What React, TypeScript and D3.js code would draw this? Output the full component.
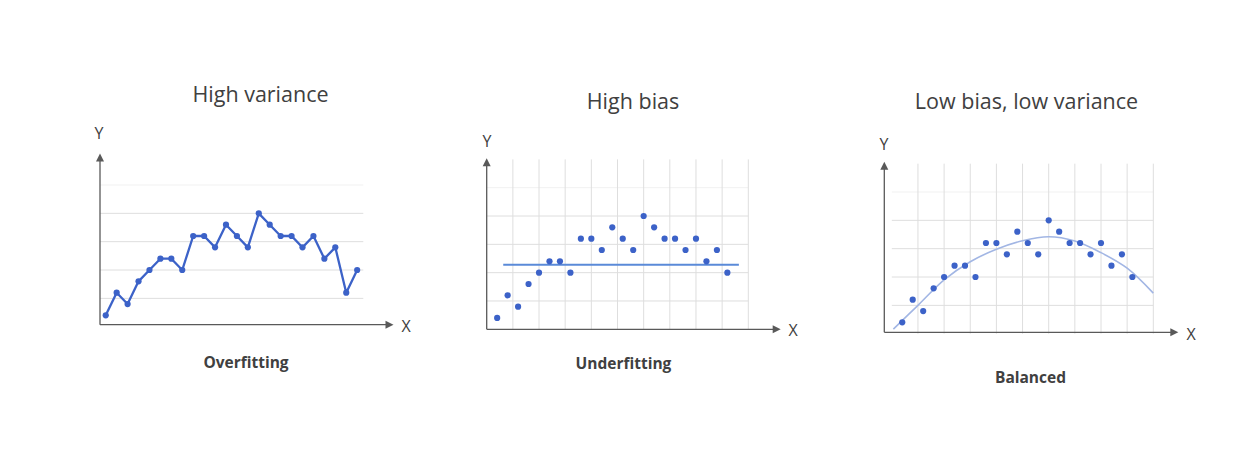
import React from 'react';
import * as d3 from 'd3';

// ---- data ----
const overfitX = [1, 2, 3, 4, 5, 6, 7, 8, 9, 10, 11, 12, 13, 14, 15, 16, 17, 18, 19, 20, 21, 22, 23, 24];
const overfitY = [0.4, 1.2, 0.8, 1.6, 2.0, 2.4, 2.4, 2.0, 3.2, 3.2, 2.8, 3.6, 3.2, 2.8, 4.0, 3.6, 3.2, 3.2, 2.8, 3.2, 2.4, 2.8, 1.2, 2.0];
const scatterX = [1, 2, 3, 4, 5, 6, 7, 8, 9, 10, 11, 12, 13, 14, 15, 16, 17, 18, 19, 20, 21, 22, 23];
const scatterY = [0.4, 1.2, 0.8, 1.6, 2.0, 2.4, 2.4, 2.0, 3.2, 3.2, 2.8, 3.6, 3.2, 2.8, 4.0, 3.6, 3.2, 3.2, 2.8, 3.2, 2.4, 2.8, 2.0];
const biasLineX = [1.58, 24.1];
const biasLineY = [2.28, 2.28];
const curveX = [0.15, 2.5, 5, 7.5, 10, 12.5, 15, 17.5, 20, 22.5, 25];
const curveY = [0.16, 1.0, 1.9, 2.54, 2.98, 3.28, 3.42, 3.27, 2.86, 2.31, 1.43];
const hGridValues = [1, 2, 3, 4, 5];
const vGridValues = [2.5, 5, 7.5, 10, 12.5, 15, 17.5, 20, 22.5, 25];
const titles = ['High variance', 'High bias', 'Low bias, low variance'];
const subtitles = ['Overfitting', 'Underfitting', 'Balanced'];

const DOT = '#3c62c8';
const GRID = '#dedede';
const GRID_TOP = '#f1f1f1';
const AXIS = '#595959';
const TEXT = '#404040';
const FONT = "'Open Sans', 'Noto Sans', sans-serif";

type PanelLayout = {
  x0: number; x25: number; y0: number; y5: number;
  axisX: number; axisY: number; yTip: number; xTip: number;
  gridLeft: number; gridRight: number; vGrid: boolean;
  yLabel: [number, number]; xLabel: [number, number];
  title: [number, number]; subtitle: [number, number];
};

const layouts: PanelLayout[] = [
  { x0: 94.8, x25: 368.1, y0: 326.7, y5: 185.0, axisX: 100, axisY: 324.7, yTip: 153.5, xTip: 393.5,
    gridLeft: 100, gridRight: 363.3, vGrid: false,
    yLabel: [99, 138.5], xLabel: [406, 332], title: [260.5, 102], subtitle: [246, 368] },
  { x0: 486.7, x25: 748.3, y0: 329.3, y5: 187.7, axisX: 486.7, axisY: 329.3, yTip: 158.3, xTip: 780.7,
    gridLeft: 486.7, gridRight: 748.3, vGrid: true,
    yLabel: [487, 146.5], xLabel: [793, 335.5], title: [633, 109], subtitle: [623.5, 369] },
  { x0: 891.8, x25: 1153.3, y0: 333.7, y5: 192.0, axisX: 884.3, axisY: 332.3, yTip: 161.7, xTip: 1178.3,
    gridLeft: 891.8, gridRight: 1153.3, vGrid: true,
    yLabel: [884, 150], xLabel: [1191, 340], title: [1026.5, 109], subtitle: [1030.5, 383] },
];

function Arrows({ L }: { L: PanelLayout }) {
  const h = 8, w = 4;
  return (
    <g>
      <line x1={L.axisX} y1={L.axisY} x2={L.axisX} y2={L.yTip + h - 1} stroke={AXIS} strokeWidth={1.3} />
      <line x1={L.axisX} y1={L.axisY} x2={L.xTip - h + 1} y2={L.axisY} stroke={AXIS} strokeWidth={1.3} />
      <path d={`M${L.axisX},${L.yTip} L${L.axisX - w},${L.yTip + h} L${L.axisX + w},${L.yTip + h} Z`} fill={AXIS} />
      <path d={`M${L.xTip},${L.axisY} L${L.xTip - h},${L.axisY - w} L${L.xTip - h},${L.axisY + w} Z`} fill={AXIS} />
      <text x={L.yLabel[0]} y={L.yLabel[1]} textAnchor="middle" fontFamily={FONT} fontSize={16} fill={TEXT}>Y</text>
      <text x={L.xLabel[0]} y={L.xLabel[1]} textAnchor="middle" fontFamily={FONT} fontSize={16} fill={TEXT}>X</text>
    </g>
  );
}

function Panel({ idx }: { idx: number }) {
  const L = layouts[idx];
  const x = d3.scaleLinear().domain([0, 25]).range([L.x0, L.x25]);
  const y = d3.scaleLinear().domain([0, 5]).range([L.y0, L.y5]);
  const vTop = y(6);
  return (
    <g>
      {hGridValues.map((v, i) => (
        <line key={'h' + i} x1={L.gridLeft} x2={L.gridRight} y1={y(v)} y2={y(v)}
          stroke={i === hGridValues.length - 1 ? GRID_TOP : GRID} strokeWidth={1} />
      ))}
      {L.vGrid && vGridValues.map((v, i) => (
        <line key={'v' + i} x1={x(v)} x2={x(v)} y1={L.y0} y2={vTop} stroke={GRID} strokeWidth={1} />
      ))}
      <Arrows L={L} />
      {idx === 0 && (
        <path
          d={d3.line<number>().x((_, i) => x(overfitX[i])).y((d) => y(d))(overfitY) || ''}
          fill="none" stroke={DOT} strokeWidth={2.3} strokeLinejoin="round" />
      )}
      {idx === 1 && (
        <path
          d={d3.line<number>().x((_, i) => x(biasLineX[i])).y((d) => y(d))(biasLineY) || ''}
          fill="none" stroke="#5a8ad8" strokeWidth={2.2} />
      )}
      {idx === 2 && (
        <path
          d={d3.line<number>().x((_, i) => x(curveX[i])).y((d) => y(d)).curve(d3.curveCatmullRom)(curveY) || ''}
          fill="none" stroke="#a2b6e4" strokeWidth={1.6} />
      )}
      {(idx === 0 ? overfitY : scatterY).map((v, i) => (
        <circle key={'p' + i} cx={x((idx === 0 ? overfitX : scatterX)[i])} cy={y(v)} r={3.1} fill={DOT} />
      ))}
      <text x={L.title[0]} y={L.title[1]} textAnchor="middle" fontFamily={FONT} fontSize={21.5} fill={TEXT}>{titles[idx]}</text>
      <text x={L.subtitle[0]} y={L.subtitle[1]} textAnchor="middle" fontFamily={FONT} fontSize={15.5} fontWeight="bold" fill={TEXT}>{subtitles[idx]}</text>
    </g>
  );
}

export default function App() {
  return (
    <svg width={1250} height={454} style={{ position: 'absolute', left: 0, top: 0, background: '#fff' }}>
      <rect x={0} y={0} width={1250} height={454} fill="#fff" />
      {[0, 1, 2].map((i) => <Panel key={i} idx={i} />)}
    </svg>
  );
}
